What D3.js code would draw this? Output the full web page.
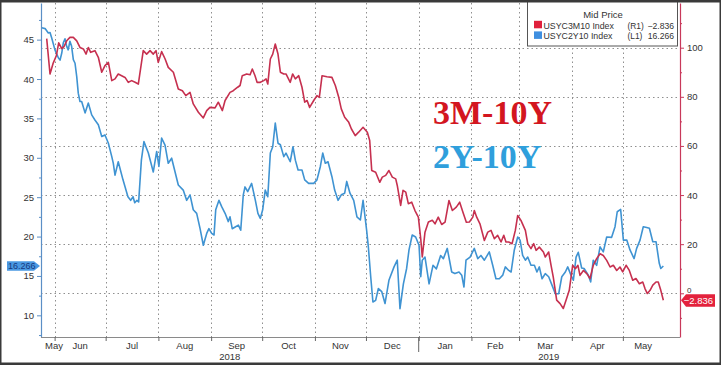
<!DOCTYPE html>
<html><head><meta charset="utf-8">
<script src="https://cdn.jsdelivr.net/npm/d3@7"></script>
<style>
html,body{margin:0;padding:0;background:#fff;}
svg{display:block;}
text{font-family:"Liberation Sans",Arial,sans-serif;}
</style></head><body>
<svg id="c" width="721" height="365"></svg>
<script>
// ---- data ----
const startDate = new Date(2018, 4, 24);          // first observation
const blueName = "USYC2Y10 Index", blueTag = "(L1)", blueLast = 16.266;
const redName = "USYC3M10 Index", redTag = "(R1)", redLast = -2.836;
// days after startDate
const blueDays = [0.4,2.4,4.3,5.3,6.3,8.2,10.2,11.2,12.2,13.1,14.1,15.1,16.0,17.0,18.0,19.0,20.0,21.0,21.9,22.9,23.9,25.9,27.8,29.8,31.7,33.7,35.7,37.6,39.6,41.6,42.5,43.5,45.4,48.2,51.1,52.7,54.1,55.1,56.4,57.4,59.0,60.5,63.1,66.0,68.0,69.3,70.9,72.9,74.8,76.8,80.7,83.6,85.6,87.6,89.5,91.5,93.5,95.4,97.4,98.7,100.3,101.7,102.7,104.6,106.2,108.2,110.1,111.1,112.4,114.4,116.0,117.4,118.9,119.9,121.5,123.8,126.0,127.5,128.9,130.3,131.8,133.3,134.8,136.2,137.7,139.3,140.7,142.7,144.0,146.5,148.1,149.5,151.1,153.4,155.0,157.3,160.3,162.2,164.2,165.6,167.1,168.7,171.0,172.6,174.6,176.5,178.5,179.7,181.6,183.8,185.7,187.7,189.3,191.4,192.4,193.8,195.1,196.7,198.3,200.3,202.2,204.5,207.5,209.4,211.0,213.0,214.9,216.3,218.2,220.2,222.2,223.2,224.1,225.7,228.1,230.4,232.4,234.9,236.5,238.8,241.4,243.3,245.7,247.3,248.6,249.8,252.2,254.7,256.7,258.6,260.6,263.5,265.5,267.4,269.4,271.4,272.9,274.9,276.3,278.2,280.2,281.6,283.1,284.7,286.1,288.0,290.0,291.5,292.9,294.5,296.4,298.4,300.4,302.3,304.3,306.1,308.2,309.6,311.5,312.9,314.5,315.8,317.8,319.2,321.7,323.1,324.6,326.6,328.6,330.5,332.5,335.4,337.4,338.7,340.7,342.3,344.3,346.2,348.6,350.1,352.1,354.0,356.0,357.6,359.6,361.5,363.4,364.3,365.8];
const blueValues = [46.5,46.4,45.85,45.9,45.2,43.7,42.7,42.4,43.3,44.6,45.1,44.15,43.7,44.8,44.15,42.45,42.0,40.3,38.2,37.15,37.15,35.7,36.95,35.45,34.8,34.2,32.7,32.9,31.85,30.15,29.3,27.8,29.5,27.2,25.05,24.6,25.05,24.3,24.6,24.4,29.7,32.05,30.6,28.2,30.8,28.9,32.5,31.6,29.3,29.95,26.55,25.9,24.6,25.3,23.4,22.95,21.0,18.9,20.4,21.0,20.4,20.2,23.4,24.6,23.8,22.95,21.9,22.5,21.0,21.25,21.45,20.8,25.3,26.3,25.7,26.75,24.6,22.95,22.3,23.4,25.9,25.05,30.6,31.4,34.4,31.85,31.65,30.15,30.6,29.5,31.4,29.7,28.45,28.45,27.2,26.75,26.75,27.2,28.9,30.6,29.3,29.5,27.6,25.9,24.6,25.3,25.5,27.0,25.5,24.6,22.5,22.1,24.6,20.8,18.7,14.9,11.7,11.9,13.4,13.0,11.5,14.45,16.15,17.0,10.85,14.0,15.95,18.3,20.2,19.95,18.9,14.9,17.0,17.4,14.0,16.35,15.9,17.6,17.2,18.5,15.5,15.3,15.5,15.1,13.6,17.0,17.4,18.5,17.2,17.6,17.0,18.05,16.35,14.65,14.65,15.1,16.15,15.7,15.5,18.3,19.95,19.55,17.6,17.0,17.4,16.35,16.35,15.5,16.15,14.65,15.3,14.9,13.8,12.75,12.75,14.9,15.5,16.15,15.1,14.45,17.4,18.0,16.0,15.95,15.1,14.25,17.0,16.35,18.7,18.05,19.95,19.9,21.25,23.15,23.45,19.55,19.55,18.3,17.2,18.5,19.55,21.25,21.15,21.05,19.35,19.35,16.6,15.95,16.266];
const redDays = [3.35,5.3,7.05,9.0,10.4,12.2,13.5,15.1,17.0,19.0,21.0,22.9,24.9,26.5,27.8,29.2,31.7,33.7,35.7,37.6,39.6,41.6,43.5,45.4,47.4,49.4,51.3,53.3,55.3,57.2,60.1,62.1,64.1,66.0,67.6,68.9,70.9,72.9,74.8,77.8,80.7,83.1,85.1,87.6,89.5,92.5,95.4,97.4,99.3,102.3,104.2,106.6,108.2,111.1,113.0,115.6,117.0,118.3,120.9,122.9,124.2,125.8,127.0,128.9,130.9,132.3,133.3,134.8,136.2,137.7,139.3,140.7,142.7,144.0,146.5,147.9,149.5,151.5,153.4,155.0,156.4,157.9,160.3,162.2,163.6,165.2,168.1,171.0,173.0,175.0,176.5,178.5,180.9,182.4,184.7,186.7,189.3,191.8,193.2,194.4,196.7,199.1,200.6,202.6,204.5,206.5,208.5,209.4,211.4,212.8,214.4,215.9,217.9,219.8,221.8,223.2,224.1,225.7,227.7,230.0,231.6,233.5,235.5,237.5,239.8,241.8,244.1,246.1,248.0,250.0,251.8,253.8,254.7,256.1,258.0,260.6,262.6,264.5,266.5,268.4,270.4,272.0,273.3,274.9,276.9,278.8,280.2,282.1,284.7,286.1,288.0,289.6,291.0,292.9,295.3,296.4,298.4,299.8,301.1,303.1,305.1,307.0,308.6,310.5,312.5,314.1,315.6,316.8,318.8,320.8,322.7,324.6,326.6,328.6,330.5,332.5,334.5,336.4,338.4,340.3,341.9,343.9,345.8,347.8,349.7,351.7,353.7,355.0,356.4,358.0,359.6,361.5,362.8,364.3,365.8];
const redValues = [103.7,89.3,93.5,96.7,102.0,99.6,100.4,102.8,104.2,104.2,102.8,100.1,99.5,97.4,100.1,98.1,98.8,96.1,90.0,92.7,94.0,86.6,87.3,89.3,88.6,87.9,85.9,86.6,85.9,85.2,98.8,97.4,98.8,97.4,98.8,94.0,98.4,95.5,92.0,90.0,83.2,82.5,80.5,81.8,77.1,73.7,71.4,74.4,75.7,75.5,77.8,74.4,78.5,81.8,82.5,83.9,84.6,88.6,89.3,89.0,91.3,88.6,85.9,85.9,86.6,87.3,85.2,95.4,97.4,101.5,97.4,90.0,89.3,89.3,85.9,89.3,87.3,88.6,83.9,77.8,78.5,75.7,78.5,80.5,79.8,88.6,88.2,87.9,84.6,79.8,75.1,71.7,69.6,67.0,64.2,65.6,67.6,65.6,62.2,50.0,49.3,45.2,47.3,48.0,50.0,47.3,46.6,43.9,35.8,41.9,41.2,36.5,37.1,33.7,31.0,22.2,14.8,24.9,29.0,29.7,28.3,31.0,28.0,29.0,37.8,33.7,35.1,37.1,33.0,28.9,29.0,31.0,33.7,31.0,28.3,21.5,24.9,25.6,22.2,23.6,20.9,23.6,20.9,20.9,20.2,25.6,31.7,29.7,25.6,20.2,18.2,20.2,17.5,18.8,16.8,14.8,16.8,11.4,6.6,-2.8,-4.2,-6.2,-2.8,1.2,11.4,10.0,11.4,7.3,9.3,8.0,6.0,11.4,14.1,16.1,15.4,13.4,10.7,11.4,9.3,10.7,8.7,11.4,9.3,5.3,6.0,3.9,4.6,1.9,-0.1,1.2,3.3,4.6,4.6,1.2,-2.836];
const leftTicks = [10,15,20,25,30,35,40,45];
const leftMinor = [7.5,12.5,17.5,22.5,27.5,32.5,37.5,42.5,47.5];
const rightTicks = [0,20,40,60,80,100];
const rightMinor = [-10,10,30,50,70,90,110];
const monthNames = ["Jan","Feb","Mar","Apr","May","Jun","Jul","Aug","Sep","Oct","Nov","Dec"];
const years = ["2018","2019"];

// ---- scales ----
const dayMs = 864e5;
const toDate = d => new Date(startDate.getTime() + d * dayMs);
const xStart = startDate, xEnd = new Date(2019, 5, 3);
const x = d3.scaleTime().domain([xStart, xEnd]).range([41, 679]);
const yL = d3.scaleLinear().domain([7.25, 49.65]).range([337, 3]);
const yR = d3.scaleLinear().domain([-17.8, 118.2]).range([337, 3]);

const blue = blueDays.map((d, i) => ({date: toDate(d), v: blueValues[i]}));
const red = redDays.map((d, i) => ({date: toDate(d), v: redValues[i]}));

const svg = d3.select("#c");
svg.append("rect").attr("width", 721).attr("height", 365).attr("fill", "#fff");

const monthStarts = d3.timeMonth.range(new Date(2018, 5, 1), new Date(2019, 4, 2));

// gridlines
const grid = svg.append("g").attr("stroke", "#8f8f8f").attr("stroke-width", 1).attr("stroke-dasharray", "1.5,3");
grid.selectAll("line.v").data(monthStarts).join("line").attr("class", "v")
  .attr("x1", d => Math.round(x(d)) + 0.5).attr("x2", d => Math.round(x(d)) + 0.5)
  .attr("y1", 3).attr("y2", 337);
grid.selectAll("line.h").data(rightTicks).join("line").attr("class", "h")
  .attr("x1", 41).attr("x2", 680)
  .attr("y1", d => Math.round(yR(d)) + 0.5).attr("y2", d => Math.round(yR(d)) + 0.5);

// series
const lineB = d3.line().x(d => x(d.date)).y(d => yL(d.v));
const lineR = d3.line().x(d => x(d.date)).y(d => yR(d.v));
svg.append("path").datum(blue).attr("d", lineB).attr("fill", "none")
  .attr("stroke", "#3f93d2").attr("stroke-width", 1.6).attr("stroke-linejoin", "round");
svg.append("path").datum(red).attr("d", lineR).attr("fill", "none")
  .attr("stroke", "#c6304f").attr("stroke-width", 1.6).attr("stroke-linejoin", "round");

// axes
function styleAxis(g, col) {
  g.select(".domain").attr("stroke", col).attr("stroke-width", 1.2);
  g.selectAll(".tick line").attr("stroke", col);
  g.selectAll(".tick text").attr("fill", "#333").style("font-size", "9.5px")
    .style("font-family", '"Liberation Sans",Arial,sans-serif');
}
const gL = svg.append("g").attr("transform", "translate(41,0)")
  .call(d3.axisLeft(yL).tickValues(leftTicks).tickSize(4).tickSizeOuter(0).tickPadding(3));
styleAxis(gL, "#5b8fc6");
const gLm = svg.append("g").attr("transform", "translate(41,0)")
  .call(d3.axisLeft(yL).tickValues(leftMinor).tickSize(2).tickSizeOuter(0).tickFormat(""));
gLm.select(".domain").remove(); gLm.selectAll(".tick line").attr("stroke", "#5b8fc6");

const gR = svg.append("g").attr("transform", "translate(680,0)")
  .call(d3.axisRight(yR).tickValues(rightTicks).tickSize(4).tickSizeOuter(0).tickPadding(3));
styleAxis(gR, "#c8385a");
// the "0" label peeks out above the last-value tag, as in the reference
gR.selectAll(".tick text").filter(d => d === 0).attr("dy", "-0.15em").style("font-size", "8px");
const gRm = svg.append("g").attr("transform", "translate(680,0)")
  .call(d3.axisRight(yR).tickValues(rightMinor).tickSize(2).tickSizeOuter(0).tickFormat(""));
gRm.select(".domain").remove(); gRm.selectAll(".tick line").attr("stroke", "#c8385a");

const gB = svg.append("g").attr("transform", "translate(0,337)")
  .call(d3.axisBottom(x).tickValues(monthStarts).tickSize(4).tickSizeOuter(0).tickFormat(""));
gB.select(".domain").attr("stroke", "#8a8a8a").attr("d", "M41,0.5H680");
gB.selectAll(".tick line").attr("stroke", "#666");
// year separator
const jan1 = new Date(2019, 0, 1);
svg.append("line").attr("x1", x(jan1)).attr("x2", x(jan1)).attr("y1", 337).attr("y2", 352)
  .attr("stroke", "#666").attr("stroke-width", 1);

// month labels
const dataStart = blue[0].date, dataEnd = blue[blue.length - 1].date;
const labelMonths = d3.timeMonth.range(new Date(2018, 4, 1), new Date(2019, 5, 1));
labelMonths.forEach(m => {
  const a = Math.max(x(m), x(dataStart)), b = Math.min(x(d3.timeMonth.offset(m, 1)), x(dataEnd));
  let cx = (a + b) / 2;
  cx = Math.max(cx, 54);
  svg.append("text").attr("x", cx).attr("y", 349).attr("text-anchor", "middle")
    .attr("fill", "#333").style("font-size", "9.5px").text(monthNames[m.getMonth()]);
});
// year labels
[[x.range()[0], x(jan1)], [x(jan1), x.range()[1]]].forEach((r, i) => {
  svg.append("text").attr("x", (r[0] + r[1]) / 2).attr("y", 360).attr("text-anchor", "middle")
    .attr("fill", "#333").style("font-size", "9.5px").text(years[i]);
});

// last-value tags
const yb = yL(blueLast);
svg.append("path").attr("d", `M7,${yb-4.8}H34L40,${yb}L34,${yb+4.8}H7Z`).attr("fill", "#4a98e2");
svg.append("text").attr("x", 8).attr("y", yb + 3.3).attr("fill", "#17387e")
  .style("font-size", "9px").text(d3.format(".3f")(blueLast));
const yr = yR(redLast);
svg.append("path").attr("d", `M681,${yr}L686,${yr-6}H715V${yr+6.5}H686Z`).attr("fill", "#e3223d");
svg.append("text").attr("x", 713).attr("y", yr + 3.6).attr("text-anchor", "end").attr("fill", "#fff")
  .style("font-size", "9.5px").text(d3.format(".3f")(redLast));

// annotation
svg.append("text").attr("x", 433).attr("y", 124).attr("fill", "#d3161f")
  .style("font-family", '"Liberation Serif","Times New Roman",serif').style("font-weight", "bold")
  .style("font-size", "34px").text("3M-10Y");
svg.append("text").attr("x", 433).attr("y", 168).attr("fill", "#2f9fdc")
  .style("font-family", '"Liberation Serif","Times New Roman",serif').style("font-weight", "bold")
  .style("font-size", "34px").text("2Y-10Y");

// legend
const lg = svg.append("g");
lg.append("rect").attr("x", 527.5).attr("y", 1.5).attr("width", 150).attr("height", 44.5)
  .attr("fill", "#fff").attr("stroke", "#555");
lg.append("text").attr("x", 603).attr("y", 17.5).attr("text-anchor", "middle").attr("fill", "#333")
  .style("font-size", "9.5px").text("Mid Price");
const rows = [
  {c: "#e0203c", name: redName, tag: redTag, v: redLast},
  {c: "#3f8fe0", name: blueName, tag: blueTag, v: blueLast}
];
rows.forEach((r, i) => {
  const yy = 28.8 + i * 10.6;
  lg.append("rect").attr("x", 534).attr("y", yy - 8).attr("width", 8).attr("height", 7.5).attr("fill", r.c);
  lg.append("text").attr("x", 543.5).attr("y", yy).attr("fill", "#333").style("font-size", "8.8px").text(r.name);
  lg.append("text").attr("x", 627.5).attr("y", yy).attr("fill", "#333").style("font-size", "8.4px").text(r.tag);
  lg.append("text").attr("x", 674).attr("y", yy).attr("text-anchor", "end").attr("fill", "#333")
    .style("font-size", "8.6px").text(d3.format(".3f")(r.v));
});

// outer frame
svg.append("rect").attr("x", 0).attr("y", 0).attr("width", 721).attr("height", 2.5).attr("fill", "#3a3a3a");
svg.append("rect").attr("x", 0).attr("y", 362.5).attr("width", 721).attr("height", 2.5).attr("fill", "#3a3a3a");
svg.append("rect").attr("x", 0).attr("y", 0).attr("width", 1.5).attr("height", 365).attr("fill", "#3a3a3a");
svg.append("rect").attr("x", 719.5).attr("y", 0).attr("width", 1.5).attr("height", 365).attr("fill", "#3a3a3a");
</script>
</body></html>
